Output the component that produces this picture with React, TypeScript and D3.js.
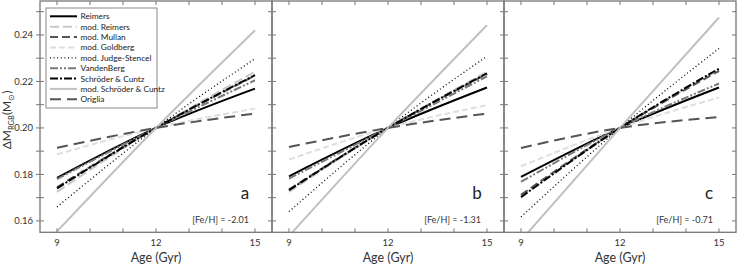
import React from "react";
import * as d3 from "d3";

// ---- data ----
const panels = ["a", "b", "c"];
const feh = ["-2.01", "-1.31", "-0.71"];
const seriesNames = [
  "Reimers",
  "mod. Reimers",
  "mod. Mullan",
  "mod. Goldberg",
  "mod. Judge-Stencel",
  "VandenBerg",
  "Schröder & Cuntz",
  "mod. Schröder & Cuntz",
  "Origlia",
];
const ages = [9, 12, 15];
// values at age 9 per panel (a, b, c)
const at9 = [
  [0.1785, 0.1792, 0.1789],
  [0.1725, 0.1725, 0.1705],
  [0.1745, 0.1735, 0.1712],
  [0.1886, 0.1864, 0.1835],
  [0.166, 0.164, 0.1617],
  [0.178, 0.1782, 0.1768],
  [0.174, 0.1732, 0.1702],
  [0.1555, 0.1535, 0.1516],
  [0.1914, 0.1918, 0.1914],
];
// values at age 12 (normalisation point)
const at12 = [0.2, 0.2, 0.2];
// values at age 15 per panel (a, b, c)
const at15 = [
  [0.2169, 0.2174, 0.2174],
  [0.2241, 0.2241, 0.225],
  [0.2225, 0.2232, 0.2245],
  [0.2083, 0.2098, 0.2131],
  [0.2298, 0.2308, 0.2342],
  [0.2205, 0.2222, 0.2191],
  [0.2227, 0.2235, 0.2255],
  [0.242, 0.2442, 0.2475],
  [0.2062, 0.2062, 0.2047],
];
const xTicks = [9, 10, 11, 12, 13, 14, 15];
const xLabels = [9, 12, 15];
const yTicks = [0.16, 0.17, 0.18, 0.19, 0.2, 0.21, 0.22, 0.23, 0.24, 0.25];
const yLabels = [0.16, 0.18, 0.2, 0.22, 0.24];

// ---- styles ----
const styles = [
  { stroke: "#000", width: 2, dash: "" },
  { stroke: "#c8c8c8", width: 2, dash: "9,4" },
  { stroke: "#555", width: 2, dash: "8,4" },
  { stroke: "#dedede", width: 2, dash: "6,3" },
  { stroke: "#000", width: 1.3, dash: "1,2.6" },
  { stroke: "#7a7a7a", width: 2, dash: "8,2,2,2,2,2" },
  { stroke: "#000", width: 2, dash: "8,2,2,2" },
  { stroke: "#c0c0c0", width: 2, dash: "" },
  { stroke: "#555", width: 2, dash: "11,6" },
];

const FONT = "Lato, 'Open Sans', sans-serif";
const panelLeft = [40, 272, 504];
const panelW = 232;
const top = 1;
const bottom = 232.3;
const axisColor = "#777";

export default function App() {
  const y = d3.scaleLinear().domain([0.1551, 0.2546]).range([bottom, top]);
  return (
    <svg
      width={737}
      height={265}
      style={{ position: "absolute", left: 0, top: 0, background: "#fff" }}
      fontFamily={FONT}
    >
      <defs>
        {panels.map((p, i) => (
          <clipPath id={`clip-${p}`} key={p}>
            <rect x={panelLeft[i]} y={top} width={panelW} height={bottom - top} />
          </clipPath>
        ))}
      </defs>
      {panels.map((p, pi) => {
        const x0 = panelLeft[pi];
        const x = d3
          .scaleLinear()
          .domain([8.485, 15.515])
          .range([x0, x0 + panelW]);
        const line = d3
          .line<[number, number]>()
          .x((d) => x(d[0]))
          .y((d) => y(d[1]))
          .curve(d3.curveMonotoneX);
        return (
          <g key={p}>
            <g clipPath={`url(#clip-${p})`}>
              {seriesNames.map((s, si) => {
                const pts: [number, number][] = [
                  [ages[0], at9[si][pi]],
                  [ages[1], at12[pi]],
                  [ages[2], at15[si][pi]],
                ];
                const st = styles[si];
                return (
                  <path
                    key={s}
                    d={line(pts) || ""}
                    fill="none"
                    stroke={st.stroke}
                    strokeWidth={st.width}
                    strokeDasharray={st.dash || undefined}
                  />
                );
              })}
            </g>
            {/* frame */}
            <rect
              x={x0}
              y={top}
              width={panelW}
              height={bottom - top}
              fill="none"
              stroke={axisColor}
              strokeWidth={1.3}
            />
            {/* x ticks */}
            {xTicks.map((t) => (
              <g key={t}>
                <line x1={x(t)} x2={x(t)} y1={bottom} y2={bottom - 4} stroke={axisColor} strokeWidth={1} />
                <line x1={x(t)} x2={x(t)} y1={top} y2={top + 4} stroke={axisColor} strokeWidth={1} />
              </g>
            ))}
            {xLabels.map((t) => (
              <text key={t} x={x(t)} y={246} fontSize={9.5} textAnchor="middle" fill="#333">
                {t}
              </text>
            ))}
            <text x={x(12)} y={262} fontSize={12.5} textAnchor="middle" fill="#333">
              Age (Gyr)
            </text>
            {/* y ticks on left border */}
            {yTicks.map((t) => (
              <line
                key={t}
                x1={x0 - 4}
                x2={x0 + 4}
                y1={y(t)}
                y2={y(t)}
                stroke={axisColor}
                strokeWidth={1}
              />
            ))}
            {pi === 2 &&
              yTicks.map((t) => (
                <line
                  key={"r" + t}
                  x1={x0 + panelW - 4}
                  x2={x0 + panelW}
                  y1={y(t)}
                  y2={y(t)}
                  stroke={axisColor}
                  strokeWidth={1}
                />
              ))}
            <text x={x0 + panelW - 27} y={199} fontSize={17} textAnchor="middle" fill="#222">
              {p}
            </text>
            <text x={x0 + panelW - 23} y={223} fontSize={9} textAnchor="end" fill="#333">
              [Fe/H] = {feh[pi]}
            </text>
          </g>
        );
      })}
      {/* y labels */}
      {yLabels.map((t) => (
        <text key={t} x={33} y={y(t) + 3.3} fontSize={9.5} textAnchor="end" fill="#333">
          {t.toFixed(2)}
        </text>
      ))}
      <text
        transform={`translate(11,${y(0.2) - 8}) rotate(-90)`}
        fontSize={12}
        textAnchor="middle"
        fill="#333"
      >
        ΔM
        <tspan fontSize={7.5} dy={2.5}>RGB</tspan>
        <tspan dy={-2.5}>(M</tspan>
        <tspan fontSize={7.5} dy={2.5}>⊙</tspan>
        <tspan dy={-2.5}>)</tspan>
      </text>
      {/* legend */}
      <g>
        <rect x={46} y={8} width={111} height={100} fill="#fff" stroke="#888" strokeWidth={1} />
        {seriesNames.map((s, i) => {
          const ly = 16.3 + i * 10.37;
          const st = styles[i];
          return (
            <g key={s}>
              <line
                x1={50}
                x2={77}
                y1={ly}
                y2={ly}
                stroke={st.stroke}
                strokeWidth={st.width}
                strokeDasharray={st.dash || undefined}
              />
              <text x={80.5} y={ly + 3} fontSize={8.3} fill="#222">
                {s}
              </text>
            </g>
          );
        })}
      </g>
    </svg>
  );
}
